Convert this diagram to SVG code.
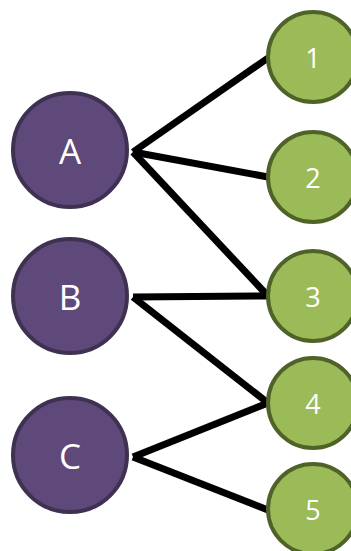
<svg xmlns="http://www.w3.org/2000/svg" width="351" height="551" viewBox="0 0 351 551">
<style>
.l{stroke:#000;stroke-width:7;fill:none;stroke-linecap:butt}
.p{fill:#5F497A;stroke:#3F3151;stroke-width:4}
.g{fill:#9BBB59;stroke:#4F6228;stroke-width:4}
.t{fill:#fff;font-family:"Open Sans","Liberation Sans",sans-serif;text-anchor:middle;dominant-baseline:central}
.tb{font-size:35px}
.ts{font-size:27px}
</style>
<rect width="351" height="551" fill="#fff"/>
<g id="connectors">
<line class="l" x1="133" y1="152" x2="268" y2="58"/>
<line class="l" x1="133" y1="152" x2="268" y2="177"/>
<line class="l" x1="133" y1="152" x2="268" y2="296"/>
<line class="l" x1="133" y1="297" x2="268" y2="296"/>
<line class="l" x1="133" y1="297" x2="268" y2="403"/>
<line class="l" x1="133" y1="457" x2="268" y2="403"/>
<line class="l" x1="133" y1="457" x2="268" y2="510"/>
</g>
<g id="A"><circle class="p" cx="70" cy="150" r="57"/><text class="t tb" x="70" y="150">A</text></g>
<g id="B"><circle class="p" cx="70" cy="296" r="57"/><text class="t tb" x="70" y="296">B</text></g>
<g id="C"><circle class="p" cx="70" cy="455" r="57"/><text class="t tb" x="70" y="455">C</text></g>
<g id="n1"><circle class="g" cx="313" cy="57" r="45"/><text class="t ts" x="313" y="57">1</text></g>
<g id="n2"><circle class="g" cx="313" cy="177" r="45"/><text class="t ts" x="313" y="177">2</text></g>
<g id="n3"><circle class="g" cx="313" cy="296" r="45"/><text class="t ts" x="313" y="296">3</text></g>
<g id="n4"><circle class="g" cx="313" cy="403" r="45"/><text class="t ts" x="313" y="403">4</text></g>
<g id="n5"><circle class="g" cx="313" cy="509" r="45"/><text class="t ts" x="313" y="509">5</text></g>
</svg>
